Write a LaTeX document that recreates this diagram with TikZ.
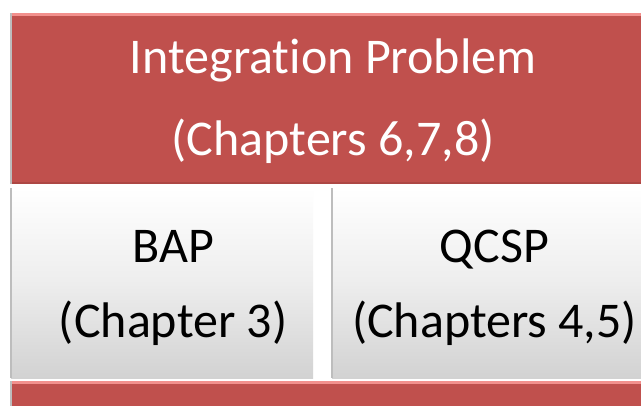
\documentclass[tikz,border=0pt]{standalone}
\usepackage{fontspec}
\setmainfont[Ligatures=NoCommon]{Carlito}
\definecolor{redmain}{HTML}{C0504D}
\definecolor{redhi}{HTML}{F2908D}
\definecolor{redlo}{HTML}{AD4744}
\definecolor{boxgray}{HTML}{D2D2D2}
\definecolor{edgegray}{HTML}{BDBDBD}
\tikzset{
  redbox/.style={fill=redmain, draw=none, inner sep=0pt, anchor=north west},
  greybox/.style={draw=none, inner sep=0pt, anchor=north west, top color=white, bottom color=boxgray, middle color=white!93!black},
  toptext/.style={text=white, align=center, font=\fontsize{50}{82}\selectfont, inner sep=0pt},
  boxtext/.style={text=black, align=center, font=\fontsize{50}{75}\selectfont, inner sep=0pt},
  hiline/.style={draw=redhi, line width=2.5pt},
  loline/.style={draw=redlo, line width=2pt},
  edgeline/.style={draw=edgegray, line width=1.2pt}
}
\begin{document}
\begin{tikzpicture}[x=1pt,y=-1pt]
\useasboundingbox (0,0) rectangle (641,405);
\fill[white] (0,0) rectangle (641,405);
% top red box
\node[redbox, minimum width=644pt, minimum height=171pt] (top) at (11,13) {};
\draw[hiline] ([yshift=-1.25pt]top.north west) -- ([yshift=-1.25pt]top.north east);
\draw[loline] ([yshift=1pt]top.south west) -- ([yshift=1pt]top.south east);
\draw[edgeline] (top.north west) -- (top.south west);
\node[toptext] (toplabel) at ([yshift=-2.5pt]top.center) {Integration Problem\\(Chapters 6,7,8)};
% BAP box
\node[greybox, minimum width=302pt, minimum height=190pt] (bap) at (11,188) {};
\draw[edgeline] (bap.north west) -- (bap.south west);
\node[boxtext] (baplabel) at ([xshift=11pt,yshift=-5pt]bap.center) {BAP\\(Chapter 3)};
% QCSP box
\node[greybox, minimum width=330pt, minimum height=190pt] (qcsp) at (332,188) {};
\draw[edgeline] (qcsp.north west) -- (qcsp.south west);
\node[boxtext] (qcsplabel) at (494.5,288) {QCSP\\(Chapters 4,5)};
% bottom red box
\node[redbox, minimum width=650pt, minimum height=40pt] (bottom) at (11,381) {};
\draw[hiline] ([yshift=-1.25pt]bottom.north west) -- ([yshift=-1.25pt]bottom.north east);
\draw[edgeline] (bottom.north west) -- (bottom.south west);
\end{tikzpicture}
\end{document}
